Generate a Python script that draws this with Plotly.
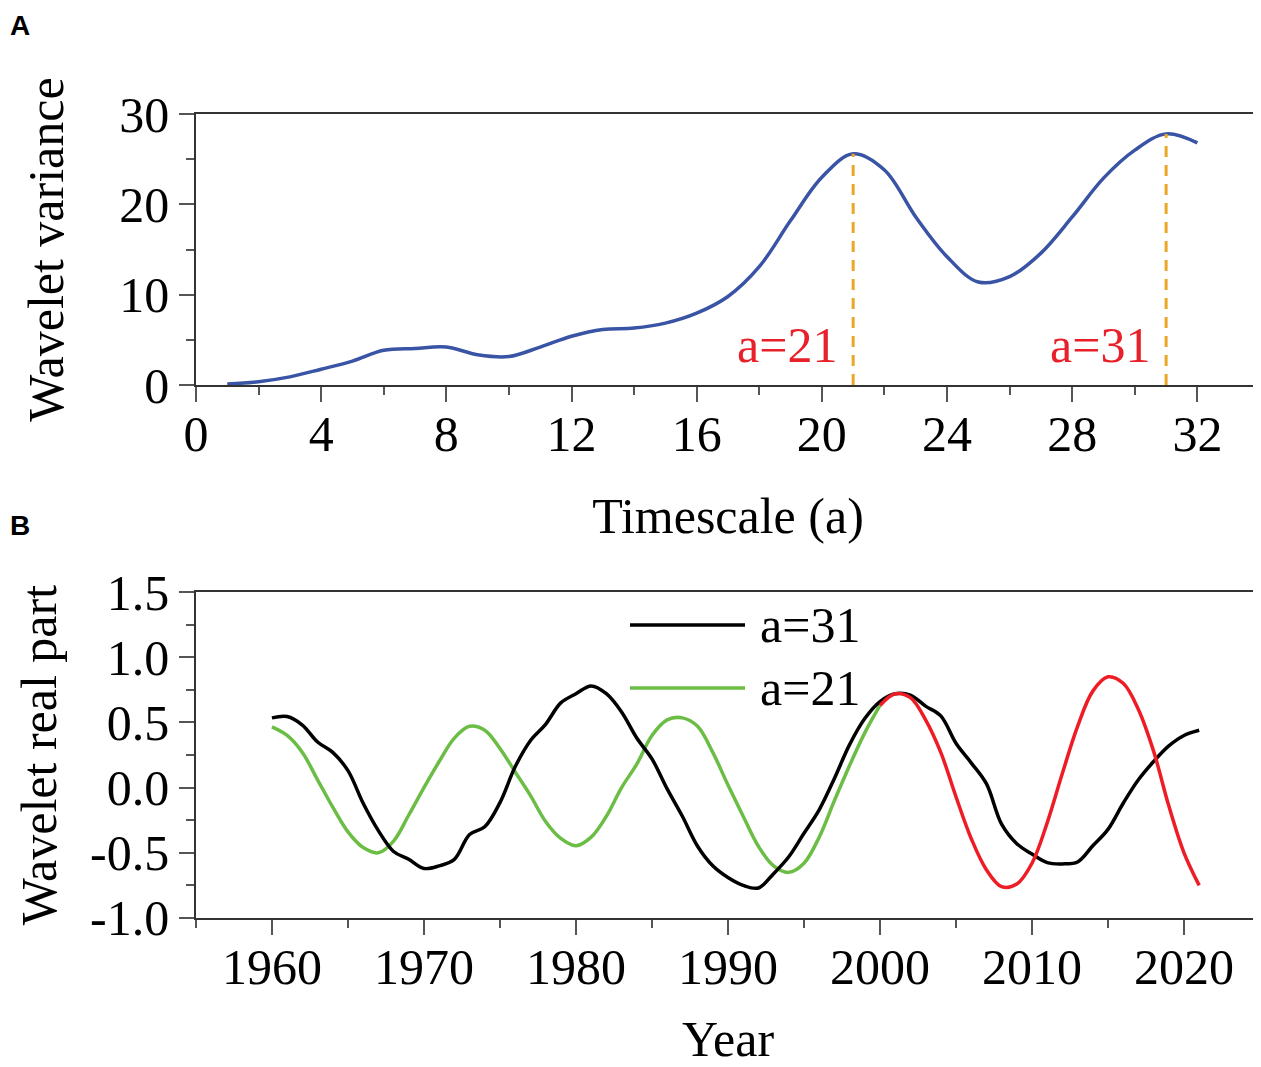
import plotly.graph_objects as go
from plotly.subplots import make_subplots

# panel A: wavelet variance by timescale
timescale = list(range(1, 33))
variance = [0.1, 0.37, 0.9, 1.75, 2.65, 3.85, 4.05, 4.2, 3.35, 3.15,
            4.2, 5.4, 6.15, 6.3, 6.85, 7.95, 9.8, 13.1, 18.2, 23.0,
            25.6, 23.8, 18.6, 14.2, 11.4, 12.0, 14.6, 18.6, 22.9, 26.0,
            27.8, 26.8]
peaks = [21, 31]

# panel B: wavelet real part by year
years = list(range(1960, 2022))
real_a31 = [0.535, 0.545, 0.48, 0.35, 0.27, 0.13, -0.12, -0.33, -0.49, -0.55,
            -0.62, -0.60, -0.55, -0.36, -0.30, -0.115, 0.16, 0.36, 0.485, 0.65,
            0.72, 0.78, 0.72, 0.58, 0.38, 0.22, -0.01, -0.22, -0.45, -0.60,
            -0.69, -0.75, -0.77, -0.66, -0.53, -0.35, -0.17, 0.07, 0.33, 0.53,
            0.66, 0.72, 0.71, 0.625, 0.55, 0.34, 0.19, 0.03, -0.28, -0.43,
            -0.51, -0.575, -0.585, -0.57, -0.446, -0.32, -0.12, 0.06, 0.20, 0.32,
            0.40, 0.44]
years_a21 = list(range(1960, 2001))
real_a21 = [0.466, 0.40, 0.27, 0.06, -0.15, -0.34, -0.46, -0.50, -0.41, -0.21,
            0.0, 0.20, 0.38, 0.47, 0.44, 0.30, 0.12, -0.06, -0.26, -0.39,
            -0.446, -0.38, -0.22, 0.0, 0.18, 0.40, 0.52, 0.535, 0.47, 0.27,
            0.02, -0.22, -0.45, -0.60, -0.65, -0.58, -0.38, -0.10, 0.17, 0.42,
            0.63]
years_red = list(range(2000, 2022))
real_red = [0.63, 0.72, 0.69, 0.52, 0.27, -0.07, -0.39, -0.63, -0.76, -0.74,
            -0.58, -0.27, 0.11, 0.47, 0.74, 0.85, 0.80, 0.60, 0.28, -0.14,
            -0.50, -0.75]

y2_ticks = [-1.0, -0.5, 0.0, 0.5, 1.0, 1.5]
y2_labels = ["-1.0", "-0.5", "0.0", "0.5", "1.0", "1.5"]

serif = "Liberation Serif"
orange = "#EBA628"

fig = make_subplots(rows=2, cols=1)

fig.add_trace(go.Scatter(x=timescale, y=variance, mode="lines", line_shape="spline",
                         line=dict(color="#3A54A5", width=3.5), showlegend=False),
              row=1, col=1)
for p in peaks:
    v = variance[timescale.index(p)]
    fig.add_trace(go.Scatter(x=[p, p], y=[0, v], mode="lines",
                             line=dict(color=orange, width=3, dash="11px,8px"),
                             showlegend=False), row=1, col=1)
    fig.add_annotation(x=p - 0.45, y=4.4, xref="x", yref="y", text="a=%d" % p,
                       showarrow=False, xanchor="right",
                       font=dict(family=serif, size=50, color="#E8202A"))

fig.add_hline(y=0, row=2, col=1, line=dict(color=orange, width=3, dash="dashdot"))
fig.add_trace(go.Scatter(x=years_a21, y=real_a21, mode="lines", line_shape="spline",
                         name="a=21", line=dict(color="#6BBD45", width=3.5),
                         showlegend=False), row=2, col=1)
fig.add_trace(go.Scatter(x=years, y=real_a31, mode="lines", line_shape="spline",
                         name="a=31", line=dict(color="black", width=3.5),
                         showlegend=False), row=2, col=1)
fig.add_trace(go.Scatter(x=years_red, y=real_red, mode="lines", line_shape="spline",
                         line=dict(color="#EE1C25", width=3.5), showlegend=False),
              row=2, col=1)

# hand-made legend (long line keys like the original)
for yk, col, lab in [(0.4174, "black", "a=31"), (0.3579, "#6BBD45", "a=21")]:
    fig.add_shape(type="line", xref="paper", yref="paper", x0=0.4964, x1=0.5882,
                  y0=yk, y1=yk, line=dict(color=col, width=3.5))
    fig.add_annotation(xref="paper", yref="paper", x=0.5986, y=yk, text=lab,
                       showarrow=False, xanchor="left", yanchor="middle",
                       font=dict(family=serif, size=50, color="black"))

fig.add_annotation(xref="paper", yref="paper", x=0.0, y=1.0, text="<b>A</b>",
                   showarrow=False, xanchor="left", yanchor="top",
                   font=dict(family="Liberation Sans", size=28, color="black"))
fig.add_annotation(xref="paper", yref="paper", x=0.0, y=0.5118, text="<b>B</b>",
                   showarrow=False, xanchor="left", yanchor="middle",
                   font=dict(family="Liberation Sans", size=28, color="black"))

axis_common = dict(showline=True, linecolor="#333", linewidth=1.5, mirror=True,
                   ticks="outside", ticklen=15, tickwidth=1.5, tickcolor="#555",
                   showgrid=False, zeroline=False, automargin=False,
                   tickfont=dict(family=serif, size=50, color="black"),
                   title_font=dict(family=serif, size=50, color="black"))

fig.update_xaxes(**axis_common)
fig.update_yaxes(**axis_common)

fig.update_layout(
    width=1253, height=1059,
    margin=dict(l=0, r=0, t=0, b=0),
    plot_bgcolor="white", paper_bgcolor="white",
    xaxis=dict(domain=[0.1500, 0.9992], range=[0, 34], dtick=4, tick0=0,
               minor=dict(ticks="outside", ticklen=8, dtick=2, tick0=0, tickcolor="#555"),
               ticklabelstandoff=-11,
               title=dict(text="Timescale (a)", standoff=37)),
    yaxis=dict(domain=[0.6440, 0.8999], range=[0, 30], dtick=10,
               minor=dict(ticks="outside", ticklen=8, dtick=5, tickcolor="#555"),
               ticklabelstandoff=0,
               title=dict(text="Wavelet variance", standoff=40)),
    xaxis2=dict(domain=[0.1500, 0.9992], range=[1955, 2025], dtick=10, tick0=1960,
                minor=dict(ticks="outside", ticklen=8, dtick=5, tick0=1955, tickcolor="#555"),
                ticklabelstandoff=-11,
                title=dict(text="Year", standoff=48)),
    yaxis2=dict(domain=[0.1407, 0.4485], range=[-1.0, 1.5],
                tickvals=y2_ticks, ticktext=y2_labels,
                minor=dict(ticks="outside", ticklen=8, dtick=0.25, tick0=0, tickcolor="#555"),
                ticklabelstandoff=0,
                title=dict(text="Wavelet real part", standoff=18)),
)

fig.write_html("out.html")
